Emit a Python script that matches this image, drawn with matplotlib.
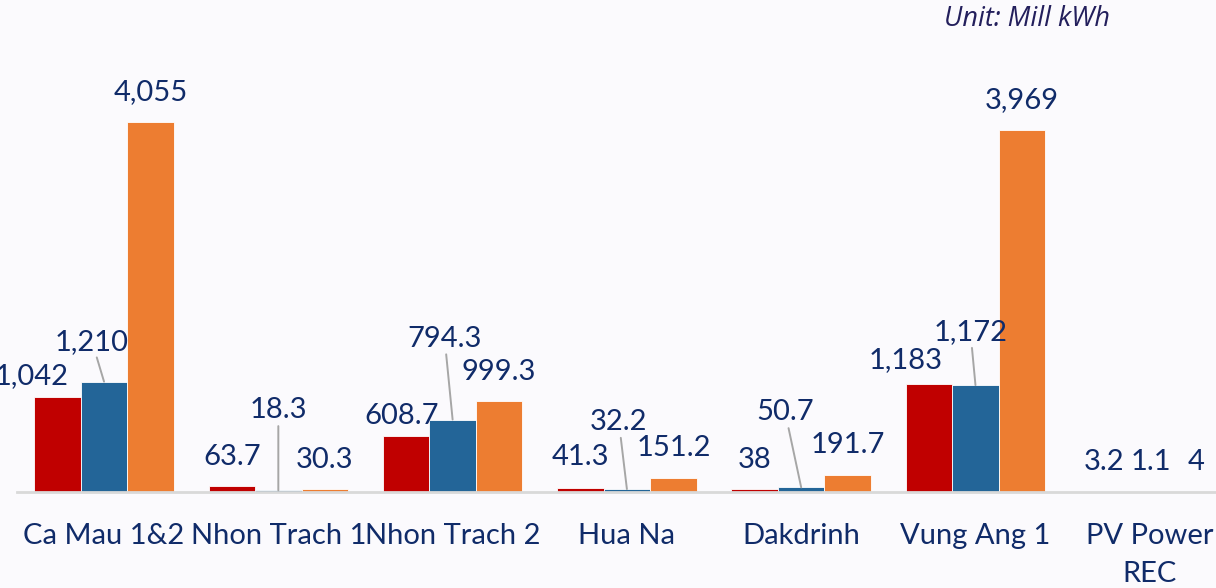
import matplotlib
matplotlib.use("Agg")
import matplotlib.pyplot as plt
import numpy as np

plt.rcParams['font.family'] = ['Lato', 'DejaVu Sans']

categories = ["Ca Mau 1&2", "Nhon Trach 1", "Nhon Trach 2", "Hua Na", "Dakdrinh", "Vung Ang 1", "PV Power\nREC"]
series_red = [1042, 63.7, 608.7, 41.3, 38, 1183, 3.2]
series_blue = [1210, 18.3, 794.3, 32.2, 50.7, 1172, 1.1]
series_orange = [4055, 30.3, 999.3, 151.2, 191.7, 3969, 4]
labels_red = ["1,042", "63.7", "608.7", "41.3", "38", "1,183", "3.2"]
labels_blue = ["1,210", "18.3", "794.3", "32.2", "50.7", "1,172", "1.1"]
labels_orange = ["4,055", "30.3", "999.3", "151.2", "191.7", "3,969", "4"]

# label offsets in pixels (dx, dy) from bar top centre
off_red = [(-26, 21), (0, 29), (-4, 20), (0, 31), (0, 29), (-23, 24), (1, 30)]
off_blue = [(-12, 40), (0, 80), (-8, 81), (-8, 67), (-16, 75), (-5, 53), (1, 30)]
off_orange = [(0, 30), (0, 29), (0, 29), (0, 30), (0, 30), (0, 30), (0, 30)]
leader_blue = [True, True, True, True, True, True, False]

RED = "#C00000"
BLUE = "#236598"
ORANGE = "#ED7D31"
NAVY = "#102B69"
BG = "#FBFAFD"

W, H = 1216, 588
fig = plt.figure(figsize=(W / 100, H / 100), dpi=100, facecolor=BG)
ax = fig.add_axes([16.9 / W, (H - 492) / H, 1220 / W, 420 / H])
ax.set_facecolor(BG)

x = np.arange(len(categories))
bw = 0.267
ymax = 420 / 0.0912
ax.set_ylim(0, ymax)
ax.set_xlim(-0.5, len(categories) - 0.5)

for vals, labs, offs, col, shift, lead in [
    (series_red, labels_red, off_red, RED, -bw, None),
    (series_blue, labels_blue, off_blue, BLUE, 0, leader_blue),
    (series_orange, labels_orange, off_orange, ORANGE, bw, None),
]:
    ax.bar(x + shift, vals, width=bw, color=col, edgecolor="white", linewidth=0.6, zorder=2)
    for i, (v, lab, (dx, dy)) in enumerate(zip(vals, labs, offs)):
        kw = {}
        if lead is not None and lead[i]:
            kw["arrowprops"] = dict(arrowstyle="-", color="#A6A6A6", lw=1.4,
                                    shrinkA=0, shrinkB=0)
        ax.annotate(lab, xy=(x[i] + shift, v), xytext=(dx, dy), textcoords="offset pixels",
                    ha="center", va="center", fontsize=21, color=NAVY,
                    annotation_clip=False, zorder=3, **kw)

for s in ["top", "right", "left"]:
    ax.spines[s].set_visible(False)
ax.spines["bottom"].set_color("#D9D9D9")
ax.spines["bottom"].set_linewidth(2)
ax.set_yticks([])
ax.set_xticks(x)
ax.set_xticklabels(categories, fontsize=21, color=NAVY, linespacing=1.58)
ax.tick_params(axis="x", length=0, pad=22)
for t in ax.get_xticklabels():
    t.set_verticalalignment("top")

fig.text(1027 / W, 1 - 19 / H, "Unit: Mill kWh", ha="center", va="center",
         fontsize=19.5, style="italic", color="#231F5C", family="Open Sans")

fig.savefig("out.png", dpi=100, facecolor=BG)
